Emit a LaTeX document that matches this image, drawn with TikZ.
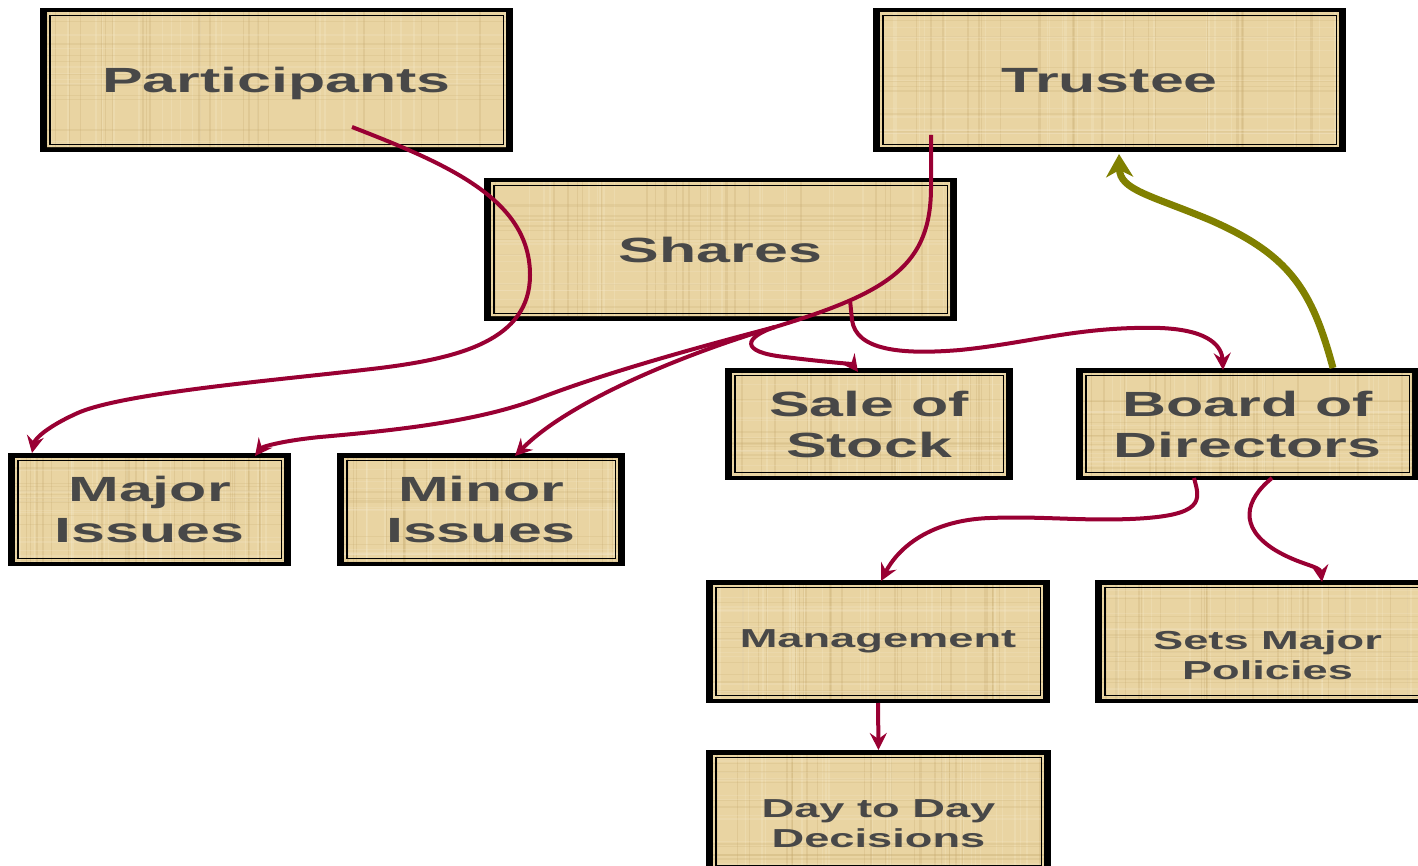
\documentclass[tikz,border=0pt]{standalone}
\usepackage{fontspec}
\newfontfamily\lblfont{Liberation Sans}[FakeStretch=1.74]
\usetikzlibrary{arrows.meta,calc}
\definecolor{papyrus}{HTML}{E9D4A2}
\definecolor{paplight}{HTML}{F6EACB}
\definecolor{papdark}{HTML}{C8AC70}
\definecolor{txtgray}{HTML}{484848}
\definecolor{crimson}{HTML}{990033}
\definecolor{olivearrow}{HTML}{808000}
\begin{document}
\begin{tikzpicture}[x=1pt,y=-1pt,
  paper/.style={fill=black, inner sep=0pt, outer sep=0pt, text=txtgray, align=center,
    path picture={
      \coordinate (pA) at ([xshift=7pt,yshift=4.5pt]path picture bounding box.south west);
      \coordinate (pB) at ([xshift=-7pt,yshift=-4.5pt]path picture bounding box.north east);
      \coordinate (pC) at (pA -| pB);
      \coordinate (pD) at (pB -| pA);
      \fill[papyrus] (pA) rectangle (pB);
      \begin{scope}
        \clip (pA) rectangle (pB);
        % fibre streaks of the papyrus sheet
        \foreach \k in {1,...,46}{
          \pgfmathsetmacro{\fx}{rnd}
          \pgfmathsetmacro{\lw}{0.6+1.6*rnd}
          \pgfmathtruncatemacro{\tone}{mod(\k,2)}
          \ifnum\tone=0 \def\fibre{paplight}\else\def\fibre{papdark}\fi
          \draw[\fibre, opacity=0.28, line width=\lw pt]
            ($(pA)!\fx!(pC)$) -- ($(pD)!\fx!(pB)$);
        }
        \foreach \k in {1,...,22}{
          \pgfmathsetmacro{\fy}{rnd}
          \pgfmathsetmacro{\lw}{0.6+1.4*rnd}
          \pgfmathtruncatemacro{\tone}{mod(\k,2)}
          \ifnum\tone=0 \def\fibre{paplight}\else\def\fibre{papdark}\fi
          \draw[\fibre, opacity=0.22, line width=\lw pt]
            ($(pA)!\fy!(pD)$) -- ($(pC)!\fy!(pB)$);
        }
      \end{scope}
      \draw[black, line width=1.4pt] ([xshift=9.8pt,yshift=7.4pt]path picture bounding box.south west)
        rectangle ([xshift=-9.8pt,yshift=-7.4pt]path picture bounding box.north east);
    }},
  bigtxt/.style={font=\lblfont\bfseries\fontsize{35}{41}\selectfont},
  smalltxt/.style={font=\lblfont\bfseries\fontsize{26}{30}\selectfont},
  link/.style={draw=crimson, line width=4pt, -{Stealth[length=17pt,width=17pt,inset=6pt]}},
  trunk/.style={draw=crimson, line width=4pt},
  feedback/.style={draw=olivearrow, line width=7pt, -{Stealth[length=23pt,width=27pt,inset=7pt]}}
]
\pgfmathsetseed{1729}
\useasboundingbox (0,0) rectangle (1418,866);
\clip (0,0) rectangle (1418,866);

% boxes
\node[paper, bigtxt, text depth=0pt, minimum width=473pt, minimum height=144pt] (part) at (276.5,80) {Participants};
\node[paper, bigtxt, text depth=0pt, minimum width=473pt, minimum height=144pt] (trust) at (1109.5,80) {Trustee};
\node[paper, bigtxt, text depth=0pt, minimum width=473pt, minimum height=143pt] (shares) at (720.5,249.5) {Shares};
\node[paper, bigtxt, minimum width=288pt, minimum height=112pt] (sale) at (869,424) {Sale of\\Stock};
\node[paper, bigtxt, minimum width=343pt, minimum height=112pt] (board) at (1247.5,424) {Board of\\Directors};
\node[paper, bigtxt, minimum width=283pt, minimum height=113pt] (major) at (149.5,509.5) {Major\\Issues};
\node[paper, bigtxt, minimum width=288pt, minimum height=113pt] (minor) at (481,509.5) {Minor\\Issues};
\node[paper, smalltxt, minimum width=344pt, minimum height=123pt] (mgmt) at (878,641.5) {Management};
\node[paper, minimum width=345pt, minimum height=123pt] (policy) at (1267.5,641.5) {};
\node[smalltxt, text=txtgray, align=center, inner sep=0pt] (policytxt) at ($(policy.center)+(0,14)$) {Sets Major\\Policies};
\node[paper, minimum width=345pt, minimum height=123pt] (day) at (878.5,811.5) {};
\node[smalltxt, text=txtgray, align=center, inner sep=0pt] (daytxt) at ($(day.center)+(0,12)$) {Day to Day\\Decisions};

% participants vote on major issues
\draw[link] ($(part.south)+(75.5,-25)$) .. controls (450,165) and (530,200) .. (530,275)
  .. controls (530,340) and (460,358) .. (380,368)
  .. controls (280,380) and (130,392) .. (80,412)
  .. controls (50,425) and (35,438) .. ($(major.north west)+(24,0)$);

% trustee line and its three branches
\coordinate (split) at (775,327);
\draw[trunk] ($(trust.south)+(-178.5,-17)$) -- (931,187) .. controls (931,265) and (890,292) .. (split);
\draw[link] (split) .. controls (745,337) and (738,352) .. (785,357)
  .. controls (825,362) and (852,364) .. ($(sale.north)+(-11,4)$);
\draw[link] (split) .. controls (680,352) and (600,375) .. (540,398)
  .. controls (480,421) and (400,430) .. (320,437)
  .. controls (280,441) and (262,447) .. ($(major.north)+(105.5,3)$);
\draw[link] (split) .. controls (690,352) and (570,400) .. ($(minor.north)+(34,3)$);

% shares elect the board
\draw[link] ($(shares.south)+(129.5,-21)$) -- (852,320) .. controls (856,350) and (900,355) .. (960,350)
  .. controls (1030,343) and (1080,326) .. (1160,328)
  .. controls (1212,330) and (1222,348) .. ($(board.north west)+(147,2)$);

% board reports back to the trustee
\draw[feedback] ($(board.north)+(85.5,0)$) .. controls (1312,290) and (1290,255) .. (1210,220)
  .. controls (1150,195) and (1120,190) .. ($(trust.south)+(9.5,2)$);

% board to management and policies
\draw[link] ($(board.south west)+(118,-2)$) .. controls (1200,500) and (1206,516) .. (1130,519)
  .. controls (1080,521) and (1040,516) .. (990,518)
  .. controls (930,520) and (898,548) .. ($(mgmt.north)+(3,1)$);
\draw[link] ($(board.south west)+(196,-2)$) .. controls (1245,500) and (1238,527) .. (1275,550)
  .. controls (1300,565) and (1320,566) .. ($(policy.north west)+(227,2)$);

% management to daily decisions
\draw[link] (mgmt.south) -- (day.north);
\end{tikzpicture}
\end{document}
